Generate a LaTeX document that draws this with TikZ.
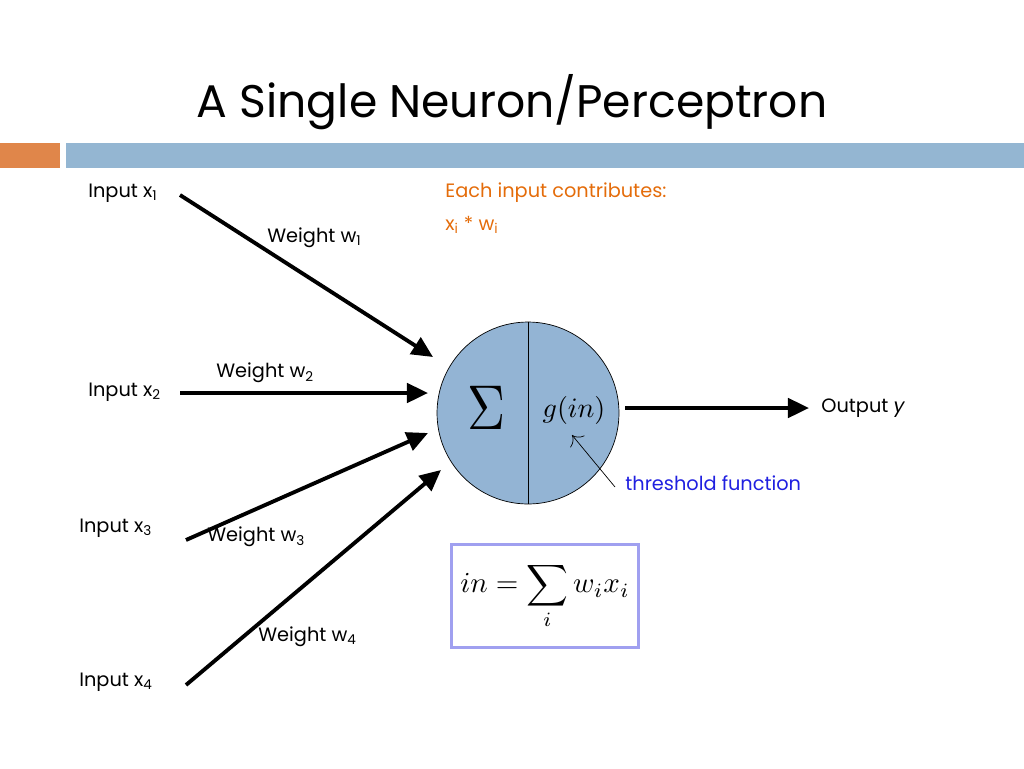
\documentclass[tikz,border=0pt]{standalone}
\usepackage{fontspec}
\setmainfont{Poppins}
\usetikzlibrary{arrows.meta}
\definecolor{barblue}{RGB}{148,182,210}
\definecolor{barorange}{RGB}{224,134,74}
\definecolor{cellblue}{RGB}{147,180,212}
\definecolor{noteorange}{RGB}{228,108,10}
\definecolor{noteblue}{RGB}{32,32,224}
\definecolor{boxblue}{RGB}{160,160,240}
\tikzset{
  lbl/.style={anchor=west, inner sep=0pt, font=\fontsize{11}{13}\selectfont},
  wire/.style={line width=2.2pt, -{Triangle[length=12pt,width=11pt]}},
}
\begin{document}
\begin{tikzpicture}[x=0.02cm,y=-0.02cm]
  \useasboundingbox (0,0) rectangle (1024,768);
  % title and bar
  \node[font=\fontsize{26}{30}\selectfont] (title) at (512,102) {A Single Neuron/Perceptron};
  \fill[barorange] (0,143) rectangle (60,168);
  \fill[barblue] (66,143) rectangle (1024,168);

  % the neuron
  \node[circle, draw, thin, fill=cellblue, minimum size=3.64cm, inner sep=0pt] (neuron) at (528,413) {};
  \draw[thin] (neuron.north) -- (neuron.south);
  \node (sum) at (487,408) {\scalebox{3.0}[3.6]{$\Sigma$}};
  \node (g) at (574,410) {\scalebox{1.6}{$g(in)$}};

  % inputs
  \node[lbl] (in1) at (88,193) {Input x\textsubscript{1}};
  \node[lbl] (in2) at (88,392) {Input x\textsubscript{2}};
  \node[lbl] (in3) at (79,528) {Input x\textsubscript{3}};
  \node[lbl] (in4) at (79,682) {Input x\textsubscript{4}};
  \coordinate (s1) at (180,195);
  \coordinate (s2) at (180,393);
  \coordinate (s3) at (186,540);
  \coordinate (s4) at (186,685);
  \coordinate (t1) at (433,357);
  \coordinate (t2) at (428,393);
  \coordinate (t3) at (428,433);
  \coordinate (t4) at (441,470);
  \draw[wire] (s1) -- (t1);
  \draw[wire] (s2) -- (t2);
  \draw[wire] (s3) -- (t3);
  \draw[wire] (s4) -- (t4);

  % weights
  \node[lbl] (w1) at (267,238) {Weight w\textsubscript{1}};
  \node[lbl] (w2) at (216,373) {Weight w\textsubscript{2}};
  \node[lbl] (w3) at (207,537) {Weight w\textsubscript{3}};
  \node[lbl] (w4) at (258,637) {Weight w\textsubscript{4}};

  % output
  \node[lbl] (out) at (821,408) {Output \textit{y}};
  \coordinate (o1) at (625,408);
  \coordinate (o2) at (809,408);
  \draw[wire] (o1) -- (o2);

  % notes
  \node[lbl, text=noteorange] (each) at (445,193) {Each input contributes:};
  \node[lbl, text=noteorange] (prod) at (445,225) {x\textsubscript{i} * w\textsubscript{i}};
  \node[lbl, text=noteblue] (thr) at (625,483) {threshold function};
  \coordinate (thrtail) at (615,487);
  \coordinate (thrtip) at (572,435);
  \draw[-{To[length=5pt]}] (thrtail) -- (thrtip);

  % formula
  \node[draw=boxblue, line width=1.5pt, minimum width=3.74cm, minimum height=2.06cm] (eq) at (545,596)
    {\scalebox{1.65}{$\displaystyle in=\sum_i w_i x_i$}};
\end{tikzpicture}
\end{document}
